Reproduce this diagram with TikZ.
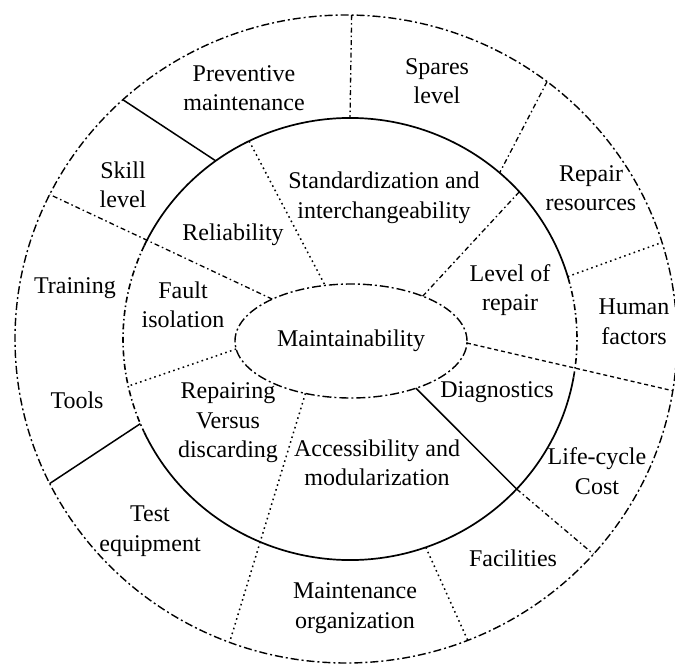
\documentclass[tikz,border=0pt]{standalone}
\usepackage{fontspec}
\setmainfont{Liberation Serif}
\usetikzlibrary{shapes.geometric}

\begin{document}
\begin{tikzpicture}[x=1pt,y=-1pt,
  ring/.style={ellipse, inner sep=0pt, outer sep=0pt},
  lab/.style={align=center, inner sep=0pt, font=\fontsize{24}{29.5}\selectfont},
  rim/.style={line width=1.4pt, dash pattern=on 8pt off 3pt on 2pt off 3pt},
  hub/.style={line width=1.4pt, dash pattern=on 9pt off 3pt on 2pt off 3pt},
  solidline/.style={line width=1.5pt},
  dashdotline/.style={line width=1.3pt, dash pattern=on 5pt off 3pt on 1.5pt off 3pt},
  dotline/.style={line width=1.5pt, dash pattern=on 1.6pt off 3.4pt},
  dashline/.style={line width=1.3pt, dash pattern=on 4pt off 3pt},
  innerarc/.style={line width=1.7pt},
  innerdash/.style={line width=1.6pt, dash pattern=on 6pt off 3pt on 1.5pt off 3pt}
]
\clip (0,0) rectangle (675,664);

% three nested rings; the middle one is drawn in arcs below
\node[ring, draw, rim, minimum width=662pt, minimum height=648pt] (outer) at (346,339) {};
\node[ring, minimum width=454pt, minimum height=442pt] (inner) at (350,339) {};
\node[ring, draw, hub, minimum width=232pt, minimum height=114pt,
      font=\fontsize{24}{29.5}\selectfont] (core) at (351,341) {Maintainability};

% middle ring: solid, with broken stretches on the left and right
\draw[innerarc]  (inner.center) ++(15:227pt and 221pt)
  arc[start angle=15, end angle=155, x radius=227pt, y radius=221pt];
\draw[innerdash] (inner.center) ++(155:227pt and 221pt)
  arc[start angle=155, end angle=205, x radius=227pt, y radius=221pt];
\draw[innerarc]  (inner.center) ++(205:227pt and 221pt)
  arc[start angle=205, end angle=350, x radius=227pt, y radius=221pt];
\draw[innerdash] (inner.center) ++(350:227pt and 221pt)
  arc[start angle=350, end angle=375, x radius=227pt, y radius=221pt];

% dividers of the outer ring
\draw[dashdotline] (outer.89.5) -- (inner.90);
\draw[dashdotline] (outer.52.3) -- (inner.48.4);
\draw[dotline]     (inner.16.8) -- (outer.17.1);
\draw[dashline]    (core.-1)    -- (outer.-9.2);
\draw[solidline]   (core.-36.6) -- (inner.-42.1);
\draw[dashdotline] (inner.-42.1) -- (outer.-41.9);
\draw[dotline]     (inner.-70.3) -- (outer.-68.3);
\draw[dotline]     (core.229.4) -- (outer.249.1);
\draw[solidline]   (inner.202.7) -- (outer.206.4);
\draw[dashdotline] (core.152.4) -- (outer.154.8);
\draw[solidline]   (outer.133.4) -- (inner.127.0);

% dividers of the inner ring only
\draw[dotline]     (inner.117.7) -- (core.115.1);
\draw[dashdotline] (inner.41.2)  -- (core.32.4);
\draw[dotline]     (core.184.5)  -- (inner.192.4);

% outer ring labels
\node[lab] (prev)  at (244,88)  {Preventive\\maintenance};
\node[lab] (spare) at (437,81)  {Spares\\level};
\node[lab] (rres)  at (591,188) {Repair\\resources};
\node[lab] (human) at (634,322) {Human\\factors};
\node[lab] (life)  at (597,471) {Life-cycle\\Cost};
\node[lab] (fac)   at (513,558) {Facilities};
\node[lab] (morg)  at (355,608) {Maintenance\\organization};
\node[lab] (test)  at (150,531) {Test\\equipment};
\node[lab] (tools) at (77,400)  {Tools};
\node[lab] (train) at (75,288)  {Training};
\node[lab] (skill) at (123,185) {Skill\\level};

% inner ring labels
\node[lab] (rel)   at (233,235) {Reliability};
\node[lab] (std)   at (384,198) {Standardization and\\interchangeability};
\node[lab] (lvl)   at (510,290) {Level of\\repair};
\node[lab] (diag)  at (497,392) {Diagnostics};
\node[lab] (acc)   at (377,463) {Accessibility and\\modularization};
\node[lab] (rvd)   at (228,423) {Repairing\\Versus\\discarding};
\node[lab] (fault) at (183,305) {Fault\\isolation};
\end{tikzpicture}
\end{document}
